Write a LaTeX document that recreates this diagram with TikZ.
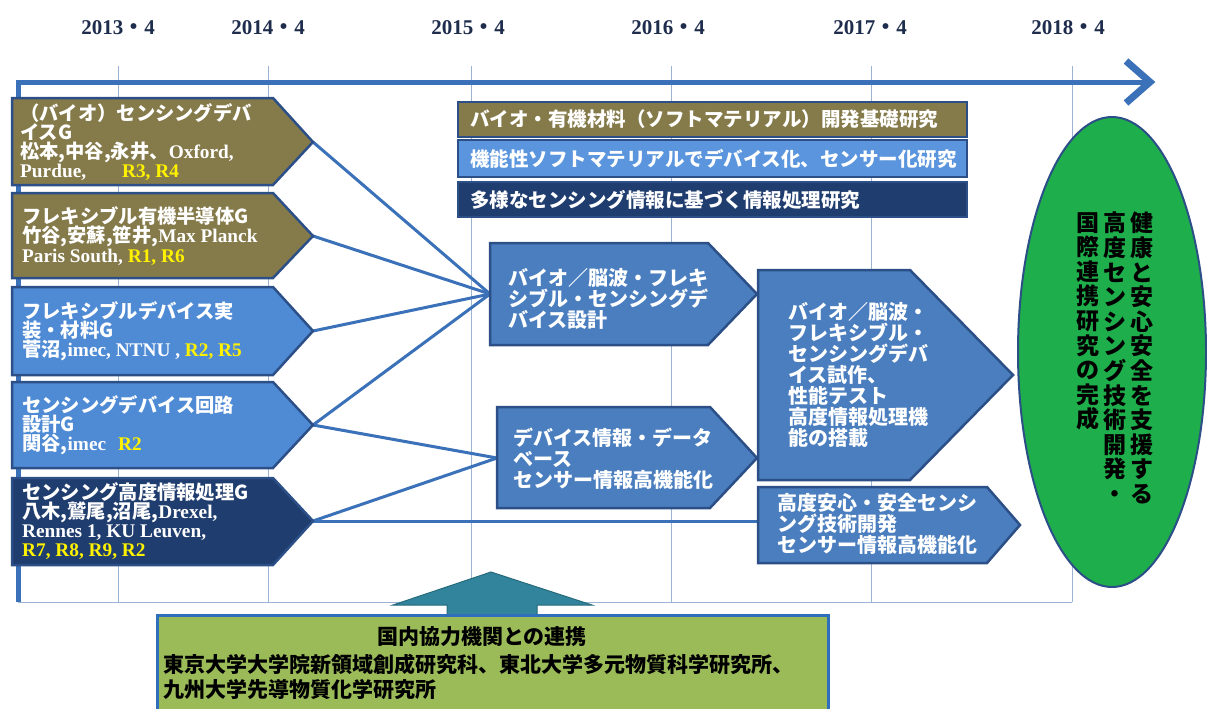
\documentclass[tikz,border=0pt]{standalone}
\usepackage{fontspec}
\setmainfont{Liberation Serif}
\newfontfamily\jp{Noto Sans CJK JP}
\usetikzlibrary{shapes.geometric}
\definecolor{myolive}{HTML}{857A4A}
\definecolor{bordr}{HTML}{2B4F86}
\definecolor{lblue}{HTML}{4F8BD5}
\definecolor{bblue}{HTML}{5A95DD}
\definecolor{mblue}{HTML}{4A7EBF}
\definecolor{navyb}{HTML}{1F3D6E}
\definecolor{tline}{HTML}{3A71B8}
\definecolor{gridc}{HTML}{9DB3D3}
\definecolor{tealc}{HTML}{31849B}
\definecolor{ygreen}{HTML}{9BBB59}
\definecolor{egreen}{HTML}{1EAE4B}
\definecolor{yeartxt}{HTML}{1F2D4D}
\definecolor{gborder}{HTML}{2F6EBA}
\newcommand\J[1]{{\jp #1}}
\newcommand\Yl[1]{\textcolor{yellow}{#1}}
\begin{document}
\begin{tikzpicture}[x=1pt,y=-1pt,
  boxline/.style={draw=bordr, line width=2.5pt, line join=miter},
  wtxt/.style={text=white, anchor=west, align=left, inner sep=0pt, font=\bfseries\fontsize{19.3}{19.2}\selectfont},
  mtxt/.style={text=white, anchor=north west, align=left, inner sep=0pt, font=\bfseries\jp\fontsize{20}{21}\selectfont},
  bartxt/.style={text=white, anchor=west, inner sep=0pt, font=\bfseries\jp\fontsize{19.5}{20}\selectfont},
  conn/.style={draw=tline, line width=3pt},
  gridl/.style={draw=gridc, line width=1pt},
  yearlbl/.style={font=\bfseries\fontsize{21}{24}\selectfont, text=yeartxt, inner sep=0pt},
  vcol/.style={anchor=north, align=center, inner sep=0pt, font=\bfseries\jp\fontsize{23}{24.6}\selectfont},
  btxt/.style={anchor=west, inner sep=0pt, font=\bfseries\jp\fontsize{21}{21}\selectfont}]
\useasboundingbox (0,0) rectangle (1207,709);
\fill[white] (0,0) rectangle (1207,709);

% year labels
\node[yearlbl] (y13) at (118,28) {2013\J{・}4};
\node[yearlbl] (y14) at (268,28) {2014\J{・}4};
\node[yearlbl] (y15) at (468,28) {2015\J{・}4};
\node[yearlbl] (y16) at (668,28) {2016\J{・}4};
\node[yearlbl] (y17) at (870,28) {2017\J{・}4};
\node[yearlbl] (y18) at (1068,28) {2018\J{・}4};

% grid
\foreach \x in {118,268,471,671,871,1072} \draw[gridl] (\x,66) -- (\x,602);
\draw[gridl] (18,602) -- (1072,602);

% timeline
\coordinate (tl0) at (18,602);
\coordinate (tl1) at (18,82);
\coordinate (tl2) at (1148,82);
\draw[draw=tline, line width=5pt] (tl0) -- (tl1) -- (tl2);
\draw[draw=tline, line width=7pt, line join=miter] (1126,61) -- (1150,82) -- (1126,103);

% connectors
\coordinate (b1) at (313,142);
\coordinate (b2) at (313,236);
\coordinate (b3) at (313,331);
\coordinate (b4) at (313,425);
\coordinate (b5) at (313,521);
\coordinate (a1in) at (490,294);
\coordinate (a2in) at (497,458);
\coordinate (a4in) at (758,521);
\draw[conn] (b1) -- (a1in);
\draw[conn] (b2) -- (a1in);
\draw[conn] (b3) -- (a1in);
\draw[conn] (b4) -- (a1in);
\draw[conn] (b4) -- (a2in);
\draw[conn] (b5) -- (a2in);
\draw[conn] (b5) -- (a4in);

% left boxes
\filldraw[boxline, fill=myolive] (12,98) -- (273,98) -- (313,142) -- (273,185) -- (12,185) -- cycle;
\node[wtxt] (t1) at (20,142) {\J{（バイオ）センシングデバ}\\\J{イスG}\\\J{松本,中谷,永井、}Oxford,\\Purdue,\hspace{36pt}\Yl{R3, R4}};
\filldraw[boxline, fill=myolive] (12,193) -- (273,193) -- (313,236) -- (273,278) -- (12,278) -- cycle;
\node[wtxt] (t2) at (22,236) {\J{フレキシブル有機半導体G}\\\J{竹谷,安蘇,笹井,}Max Planck\\Paris South, \Yl{R1, R6}};
\filldraw[boxline, fill=lblue] (12,287) -- (273,287) -- (313,331) -- (273,375) -- (12,375) -- cycle;
\node[wtxt] (t3) at (22,331) {\J{フレキシブルデバイス実}\\\J{装・材料G}\\\J{菅沼,}imec, NTNU , \Yl{R2, R5}};
\filldraw[boxline, fill=lblue] (12,382) -- (273,382) -- (313,425) -- (273,468) -- (12,468) -- cycle;
\node[wtxt] (t4) at (22,425) {\J{センシングデバイス回路}\\\J{設計G}\\\J{関谷,}imec\hspace{12pt}\Yl{R2}};
\filldraw[boxline, fill=navyb] (12,478) -- (273,478) -- (313,521) -- (273,565) -- (12,565) -- cycle;
\node[wtxt] (t5) at (22,521) {\J{センシング高度情報処理G}\\\J{八木,鷲尾,沼尾,}Drexel,\\Rennes 1, KU Leuven,\\\Yl{R7, R8, R9, R2}};

% bars
\filldraw[boxline, line width=2pt, fill=myolive] (458,102) rectangle (967,137);
\node[bartxt] (bar1) at (470,119.5) {バイオ・有機材料（ソフトマテリアル）開発基礎研究};
\filldraw[boxline, line width=2pt, fill=bblue] (458,140) rectangle (967,177);
\node[bartxt] (bar2) at (470,158.5) {機能性ソフトマテリアルでデバイス化、センサー化研究};
\filldraw[boxline, line width=2pt, fill=navyb] (458,182) rectangle (967,217);
\node[bartxt] (bar3) at (470,199.5) {多様なセンシング情報に基づく情報処理研究};

% middle arrows
\filldraw[boxline, fill=mblue] (490,243) -- (708,243) -- (757,294) -- (708,345) -- (490,345) -- cycle;
\node[mtxt] (m1) at (508,268) {バイオ／脳波・フレキ\\シブル・センシングデ\\バイス設計};
\filldraw[boxline, fill=mblue] (497,407) -- (710,407) -- (757,458) -- (710,508) -- (497,508) -- cycle;
\node[mtxt] (m2) at (513,428) {デバイス情報・データ\\ベース\\センサー情報高機能化};
\filldraw[boxline, fill=mblue] (758,270) -- (910,270) -- (1013,375) -- (910,480) -- (758,480) -- cycle;
\node[mtxt] (m3) at (788,302) {バイオ／脳波・\\フレキシブル・\\センシングデバ\\イス試作、\\性能テスト\\高度情報処理機\\能の搭載};
\filldraw[boxline, fill=mblue] (758,487) -- (987,487) -- (1020,525) -- (987,563) -- (758,563) -- cycle;
\node[mtxt] (m4) at (777,493) {高度安心・安全センシ\\ング技術開発\\センサー情報高機能化};

% goal ellipse
\node[ellipse, draw=bordr, line width=2pt, fill=egreen, minimum width=188pt, minimum height=470pt, inner sep=0pt] (goal) at (1112,352) {};
\node[vcol] (c1) at (1142,212) {健\\康\\と\\安\\心\\安\\全\\を\\支\\援\\す\\る};
\node[vcol] (c2) at (1115,212) {高\\度\\セ\\ン\\シ\\ン\\グ\\技\\術\\開\\発\\・};
\node[vcol] (c3) at (1088,212) {国\\際\\連\\携\\研\\究\\の\\完\\成};

% bottom arrow and box
\filldraw[fill=tealc, draw=tealc!80!black, line width=1pt] (491,572) -- (592,605) -- (537,605) -- (537,616) -- (447,616) -- (447,605) -- (393,605) -- cycle;
\filldraw[fill=ygreen, draw=gborder, line width=3pt] (157,615) rectangle (828,716);
\node[btxt, anchor=center] (bt0) at (482,637) {国内協力機関との連携};
\node[btxt] (bt1) at (163,664) {東京大学大学院新領域創成研究科、東北大学多元物質科学研究所、};
\node[btxt] (bt2) at (163,690) {九州大学先導物質化学研究所};
\end{tikzpicture}
\end{document}
